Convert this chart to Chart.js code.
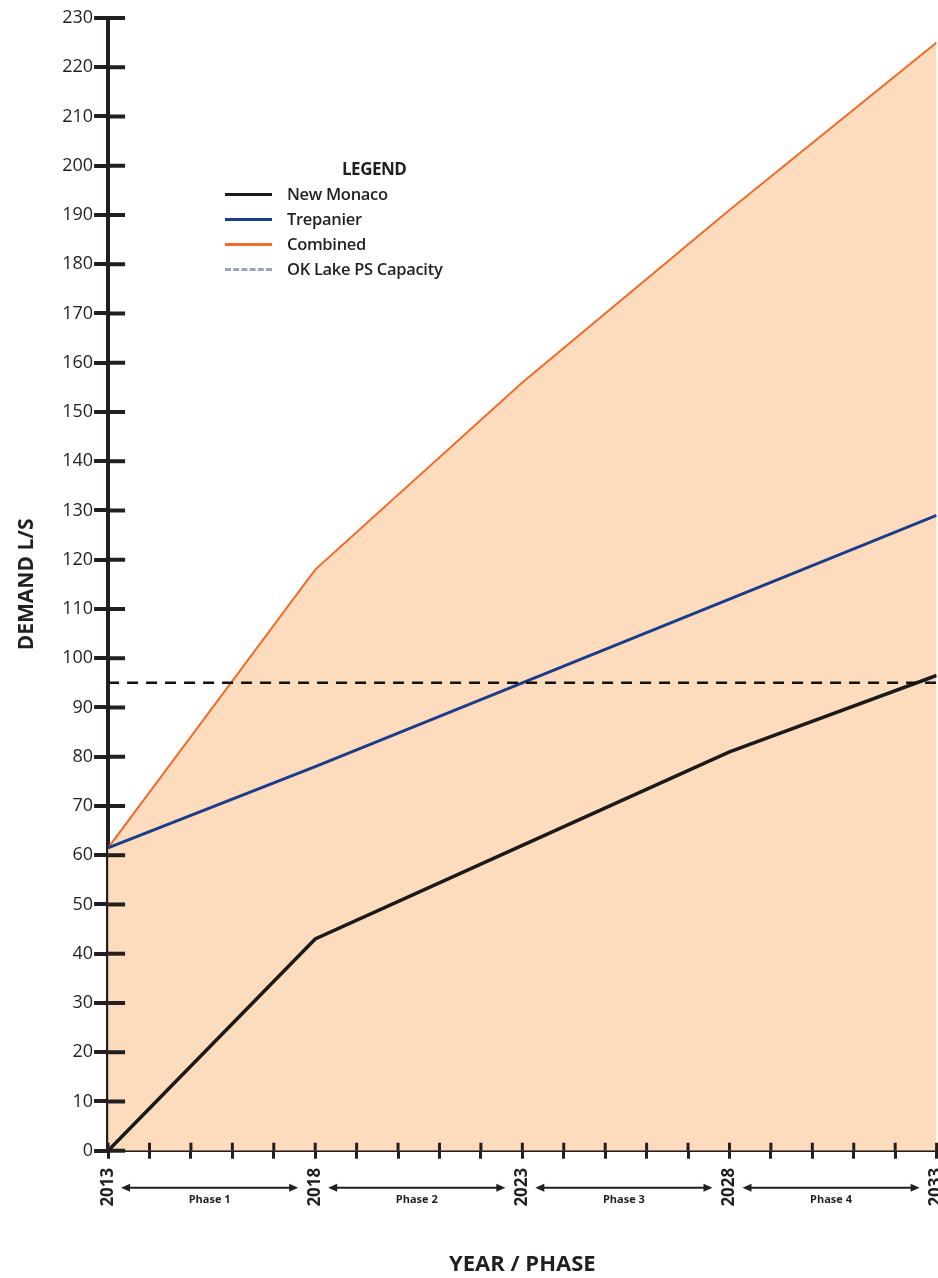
<!DOCTYPE html>
<html>
<head>
<meta charset="utf-8">
<title>Demand L/S by Year / Phase</title>
<script src="https://cdn.jsdelivr.net/npm/chart.js@4.4.0/dist/chart.umd.min.js"></script>
<style>
    html, body { margin: 0; padding: 0; background: #fff; overflow: hidden; }
    #wrap { position: relative; width: 966px; height: 1278px; }
    #legend { position: absolute; left: 225px; top: 157px; font-family: "Open Sans", sans-serif; color: #231f20; }
    #legend .head { font-weight: bold; font-size: 17px; margin-left: 117px; height: 24px; line-height: 24px; letter-spacing: -0.5px; }
    #legend .row { height: 25px; line-height: 25px; font-size: 16.5px; font-weight: 600; white-space: nowrap; letter-spacing: -0.3px; }
    #legend .swatch { display: inline-block; width: 47px; height: 0; vertical-align: middle; margin-right: 15px; position: relative; top: -1px; }
</style>
</head>
<body>
<div id="wrap">
    <canvas id="demandChart" width="966" height="1278"></canvas>
    <div id="legend"></div>
</div>
<script>

// values (L/s)
var years = [2013, 2018, 2023, 2028, 2033];
var newMonaco = [0, 43, 62, 81, 96.5];
var trepanier = [61.5, 78, 95, 112, 129];
var combined = [61.5, 118, 156, 191, 225];
var capacityYears = [2013, 2033];
var capacity = [95, 95];

var yearLabels = ['2013', '2018', '2023', '2028', '2033'];
var phaseNames = ['Phase 1', 'Phase 2', 'Phase 3', 'Phase 4'];

var legendItems = [
    { label: 'New Monaco', color: '#1a1a1a', dash: false },
    { label: 'Trepanier', color: '#1b3c8c', dash: false },
    { label: 'Combined', color: '#f26a2a', dash: false },
    { label: 'OK Lake PS Capacity', color: '#9ea3b3', dash: true }
];

var ink = '#231f20';

function toPoints(xs, ys) {
    return xs.map(function (x, i) { return { x: x, y: ys[i] }; });
}

// ticks that cross the axes + the phase arrows under the year labels
var axisExtras = {
    id: 'axisExtras',
    afterDraw: function (chart) {
        var ctx = chart.ctx;
        var xs = chart.scales.x;
        var ys = chart.scales.y;

        ctx.save();
        ctx.strokeStyle = ink;
        ctx.lineWidth = 4;
        ys.ticks.forEach(function (t) {
            var py = ys.getPixelForValue(t.value);
            ctx.beginPath();
            ctx.moveTo(xs.left, py);
            ctx.lineTo(xs.left + 17, py);
            ctx.stroke();
        });
        ctx.lineWidth = 3;
        xs.ticks.forEach(function (t) {
            var px = xs.getPixelForValue(t.value);
            ctx.beginPath();
            ctx.moveTo(px, ys.bottom);
            ctx.lineTo(px, ys.bottom - 8);
            ctx.stroke();
        });

        // phase arrows
        var ay = xs.top + 37;
        ctx.fillStyle = ink;
        ctx.lineWidth = 2;
        ctx.font = 'bold 11px "Open Sans"';
        ctx.textAlign = 'center';
        ctx.textBaseline = 'middle';
        phaseNames.forEach(function (name, i) {
            var x0 = xs.getPixelForValue(years[i]) + 13;
            var x1 = xs.getPixelForValue(years[i + 1]) - 17;
            ctx.beginPath();
            ctx.moveTo(x0 + 4, ay);
            ctx.lineTo(x1 - 4, ay);
            ctx.stroke();
            ctx.beginPath();
            ctx.moveTo(x0, ay);
            ctx.lineTo(x0 + 9, ay - 4);
            ctx.lineTo(x0 + 9, ay + 4);
            ctx.closePath();
            ctx.fill();
            ctx.beginPath();
            ctx.moveTo(x1, ay);
            ctx.lineTo(x1 - 9, ay - 4);
            ctx.lineTo(x1 - 9, ay + 4);
            ctx.closePath();
            ctx.fill();
            ctx.fillText(name, (x0 + x1) / 2, ay + 12);
        });
        ctx.restore();
    }
};

var ctx = document.getElementById('demandChart').getContext('2d');
var chart = new Chart(ctx, {
    type: 'line',
    data: {
        datasets: [
            {
                label: 'OK Lake PS Capacity',
                data: toPoints(capacityYears, capacity),
                borderColor: '#111',
                borderWidth: 2.5,
                borderDash: [11, 8],
                pointRadius: 0,
                fill: false,
                order: 0
            },
            {
                label: 'New Monaco',
                data: toPoints(years, newMonaco),
                borderColor: '#1a1a1a',
                borderWidth: 3.5,
                pointRadius: 0,
                fill: false,
                order: 1
            },
            {
                label: 'Trepanier',
                data: toPoints(years, trepanier),
                borderColor: '#1b3c8c',
                borderWidth: 3,
                pointRadius: 0,
                fill: false,
                order: 2
            },
            {
                label: 'Combined',
                data: toPoints(years, combined),
                borderColor: '#f26a2a',
                backgroundColor: '#fcdcbd',
                borderWidth: 2,
                pointRadius: 0,
                fill: 'origin',
                order: 3
            }
        ]
    },
    options: {
        responsive: false,
        animation: false,
        layout: { padding: { top: 18, left: 0, right: 0, bottom: 0 } },
        plugins: {
            legend: { display: false },
            tooltip: { enabled: false },
            filler: { drawTime: 'beforeDatasetsDraw' }
        },
        scales: {
            x: {
                type: 'linear',
                min: 2013,
                max: 2033,
                border: { display: true, color: ink, width: 3 },
                grid: { drawOnChartArea: false, drawTicks: true, tickLength: 8, color: ink, lineWidth: 3 },
                ticks: {
                    stepSize: 1,
                    autoSkip: false,
                    minRotation: 90,
                    maxRotation: 90,
                    padding: 9,
                    color: ink,
                    font: { family: 'Open Sans', size: 17, weight: 'bold' },
                    callback: function (value) {
                        var s = String(value);
                        return yearLabels.indexOf(s) >= 0 ? s : '';
                    }
                },
                title: {
                    display: true,
                    text: 'YEAR / PHASE',
                    color: ink,
                    font: { family: 'Open Sans', size: 22, weight: 'bold' },
                    padding: { top: 36, bottom: 0 }
                }
            },
            y: {
                min: 0,
                max: 230,
                border: { display: true, color: ink, width: 4 },
                grid: { drawOnChartArea: false, drawTicks: true, tickLength: 14, color: ink, lineWidth: 4 },
                ticks: {
                    stepSize: 10,
                    padding: 1,
                    color: ink,
                    font: { family: 'Open Sans', size: 18 }
                },
                title: {
                    display: true,
                    text: 'DEMAND L/S',
                    color: ink,
                    font: { family: 'Open Sans', size: 21, weight: 'bold' },
                    padding: { top: 14, bottom: 22 }
                }
            }
        }
    },
    plugins: [axisExtras]
});

// legend box drawn as html on top of the plot
var legendEl = document.getElementById('legend');
var html = '<div class="head">LEGEND</div>';
legendItems.forEach(function (item) {
    var border = item.dash ? '3px dashed ' + item.color : '3px solid ' + item.color;
    html += '<div class="row"><span class="swatch" style="border-top:' + border + '"></span>' + item.label + '</div>';
});
legendEl.innerHTML = html;

</script>
</body>
</html>
